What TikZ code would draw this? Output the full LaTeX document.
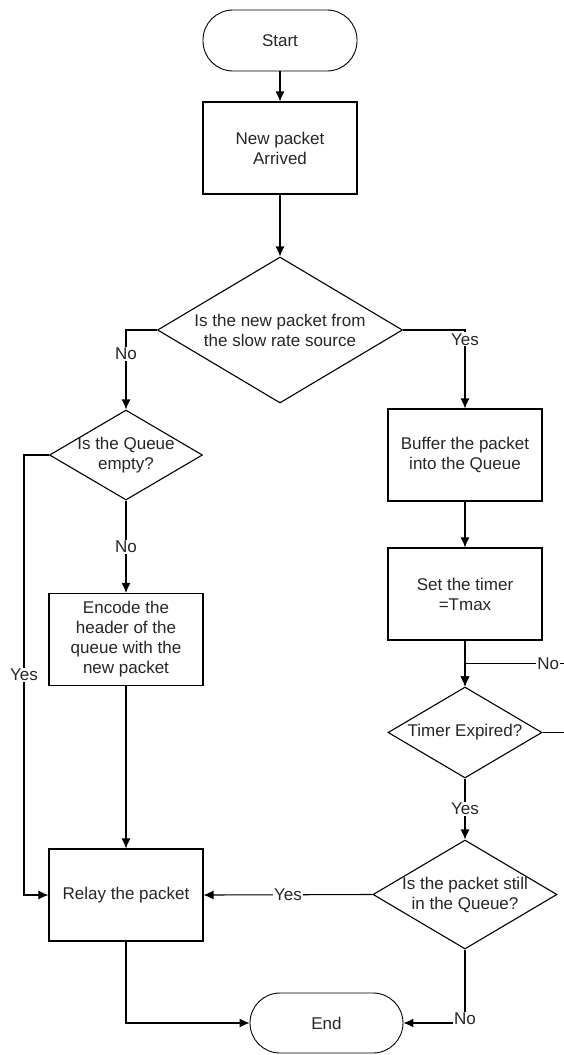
\documentclass[tikz,border=0pt]{standalone}
\usepackage{fontspec}
\setmainfont{Liberation Sans}
\usetikzlibrary{shapes.geometric}
\usetikzlibrary{arrows.meta}
\usetikzlibrary{calc}

\begin{document}
\begin{tikzpicture}[>={Latex[length=10pt,width=9pt]},x=1pt,y=-1pt,line width=1.1pt,
    every node/.style={font=\fontsize{17}{20}\selectfont,text=black!85},
    proc/.style={draw,minimum width=154pt,minimum height=92pt,align=center},
    term/.style={draw,line width=0.9pt,minimum width=154pt,minimum height=61pt,rounded corners=30pt},
    dec/.style={draw,diamond,inner sep=0pt},
    lbl/.style={fill=white,inner sep=1pt}]
    \useasboundingbox (0,0) rectangle (563,1055);
            % terminals
            \node[term] (start) at (280,40.5) {Start};
            \node[term,minimum width=153pt,minimum height=60pt] (end) at (326.5,1023) {End};
            % process boxes
            \foreach \n/\x/\y/\t in {new/280/148/{New packet\\Arrived},enc/126/639.5/{Encode the\\header of the\\queue with the\\new packet},buf/465/455/{Buffer the packet\\into the Queue},timer/465/594/{Set the timer\\=Tmax},relay/126/895/{Relay the packet}}
            {
                \node[proc] (\n) at (\x,\y) {\t};
            }
            % decisions
            \node[dec,minimum width=245pt,minimum height=146pt,label={[align=center]center:{Is the new packet from\\the slow rate source}}] (q1) at (280,330) {};
            \node[dec,minimum width=153pt,minimum height=90pt,label={[align=center]center:{Is the Queue\\empty?}}] (q2) at (126,455) {};
            \node[dec,minimum width=154pt,minimum height=91pt,label={center:Timer Expired?}] (q3) at (465,732.5) {};
            \node[dec,minimum width=184pt,minimum height=109pt,label={[align=center]center:{Is the packet still\\in the Queue?}}] (q4) at (465,894.5) {};
            \coordinate (join) at ($(timer.south)!0.5!(q3.north)$);
            % connectors
            \draw[->] (start) -- (new);
            \draw[->] (new) -- (q1);
            \draw[->] (q1.west) -| node[lbl,pos=0.65]{No} (q2.north);
            \draw[->] (q1.east) -| node[lbl,pos=0.56]{Yes} (buf.north);
            \draw[->] (q2) -- node[lbl]{No} (enc);
            \draw[->] (enc) -- (relay);
            \draw[->] (q2.west) -- ++(-25,0) |- node[lbl,pos=0.25]{Yes} (relay.west);
            \draw[->] (buf) -- (timer);
            \draw[->] (timer) -- (q3);
            \draw[->] (q3.east) -- ++(24,0) |- node[lbl,pos=0.59]{No} (join) -- (q3.north);
            \draw[->] (q3) -- node[lbl]{Yes} (q4);
            \draw[->] (q4.west) -- node[lbl]{Yes} (relay.east);
            \draw[->] (q4.south) |- node[lbl,pos=0.47]{No} (end.east);
            \draw[->] (relay.south) |- (end.west);
        \end{tikzpicture}
\end{document}
